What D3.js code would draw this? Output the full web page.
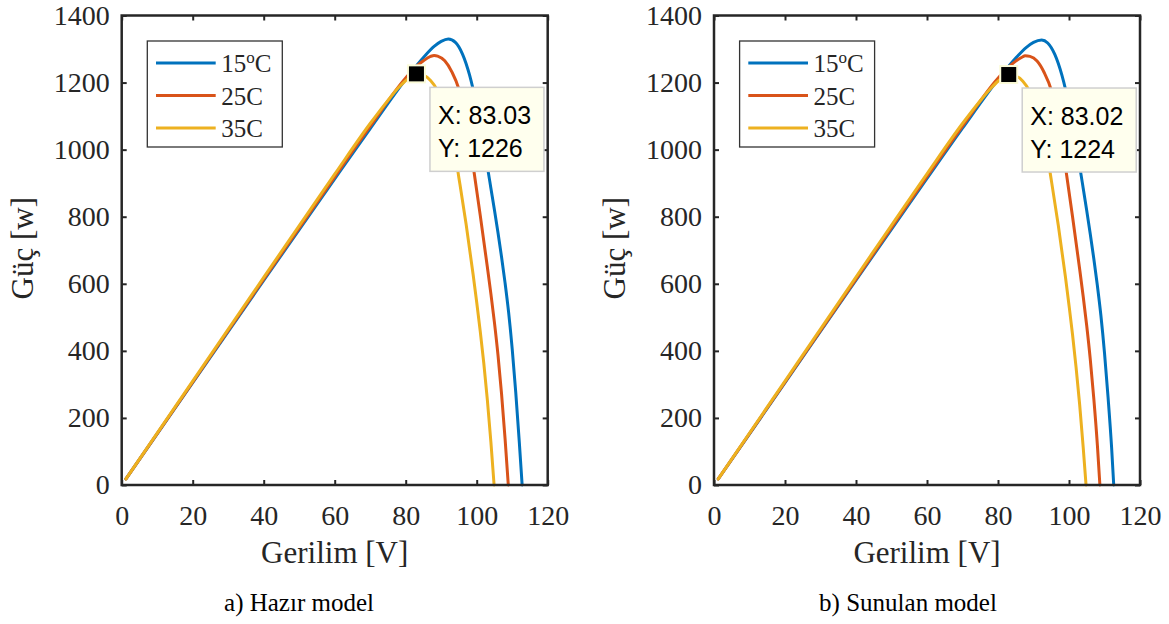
<!DOCTYPE html>
<html>
<head>
<meta charset="utf-8">
<script src="https://cdn.jsdelivr.net/npm/d3@7"></script>
<style>
  body { margin: 0; background: #fff; }
  svg text { fill: #262626; }
</style>
</head>
<body>
<div id="chart"></div>
<script>
// Axis ticks
const xTicks = [0, 20, 40, 60, 80, 100, 120];
const yTicks = [0, 200, 400, 600, 800, 1000, 1200, 1400];

// Legend labels and MATLAB default colours
const seriesNames = ['15', '25C', '35C'];
const seriesColors = ['#0072BD', '#D95319', '#EDB120'];

// a) Hazir model: [voltage, power]
const hazir15 = [[1.2, 18], [20, 305], [40, 610], [60, 913], [70, 1063], [80, 1210], [85, 1275], [88, 1308], [90, 1323], [92, 1330], [94, 1320], [96, 1285], [98, 1222], [100, 1130], [102, 1010], [103, 950], [104, 885], [105, 820], [106, 752], [107, 680], [108, 602], [109, 514], [110, 406], [111, 276], [112, 128], [112.8, 0]];
const hazir25 = [[1.2, 18], [20, 307], [40, 614], [60, 919], [70, 1070], [80, 1214], [83, 1248], [85, 1265], [87, 1278], [88, 1281], [89, 1279], [91, 1265], [93, 1232], [95, 1180], [97, 1088], [99, 952], [101, 804], [103, 650], [104, 570], [105, 484], [106, 387], [107, 272], [108, 137], [108.9, 0]];
const hazir35 = [[1.2, 18], [20, 310], [40, 619], [60, 927], [70, 1078], [75, 1147], [78, 1185], [80, 1206], [82, 1220], [83.03, 1226], [85, 1222], [87, 1206], [89, 1176], [91, 1128], [93, 1045], [95, 915], [97, 779], [99, 627], [100, 545], [101, 458], [102, 363], [103, 254], [104, 128], [104.9, 0]];

// b) Sunulan model
const sunulan15 = [[1.2, 18], [20, 305], [40, 611], [60, 914], [70, 1064], [80, 1209], [85, 1273], [88, 1305], [90, 1320], [92.3, 1327], [94, 1318], [96, 1284], [98, 1222], [100, 1132], [102, 1012], [103, 951], [104, 885], [105, 818], [106, 748], [107, 674], [108, 594], [109, 504], [110, 394], [111, 262], [112, 112], [112.6, 0]];
const sunulan25 = [[1.2, 18], [20, 307], [40, 614], [60, 920], [70, 1070], [80, 1213], [83, 1246], [85, 1264], [87, 1277], [87.6, 1280], [89, 1278], [91, 1264], [93, 1230], [95, 1178], [97, 1086], [99, 949], [101, 800], [103, 644], [104, 562], [105, 474], [106, 374], [107, 256], [108, 118], [108.7, 0]];
const sunulan35 = [[1.2, 18], [20, 310], [40, 620], [60, 928], [70, 1078], [75, 1146], [78, 1183], [80, 1204], [82, 1218], [83.02, 1224], [85, 1220], [87, 1204], [89, 1173], [91, 1124], [93, 1040], [95, 910], [97, 773], [99, 620], [100, 536], [101, 448], [102, 350], [103, 240], [104, 112], [104.8, 0]];

const panels = [
  { left: 121.7, caption: 'a) Hazır model', captionX: 299, series: [hazir15, hazir25, hazir35], tip: [83.03, 1226] },
  { left: 714, caption: 'b) Sunulan model', captionX: 908, series: [sunulan15, sunulan25, sunulan35], tip: [83.02, 1224] }
];

const svgWidth = 1169, svgHeight = 624;
const plotW = 426;
const plotTop = 15.5, plotBottom = 485;
const serif = '"Liberation Serif", "Times New Roman", serif';
const sans = '"Liberation Sans", Arial, Helvetica, sans-serif';

const svg = d3.select('#chart').append('svg')
  .attr('width', svgWidth)
  .attr('height', svgHeight);

panels.forEach(p => {
  const g = svg.append('g').attr('transform', `translate(${p.left}, ${plotTop})`);
  const h = plotBottom - plotTop;

  const xScale = d3.scaleLinear().domain([0, 120]).range([0, plotW]);
  const yScale = d3.scaleLinear().domain([0, 1400]).range([h, 0]);

  // axes, ticks pointing inward
  const styleAxis = sel => {
    sel.attr('font-family', null).attr('font-size', null);
    sel.select('.domain').remove();
    sel.selectAll('line').attr('stroke', '#262626').attr('stroke-width', 2);
    sel.selectAll('text')
      .style('font-family', serif)
      .style('font-size', '28px')
      .style('fill', '#262626');
  };
  g.append('g').attr('transform', `translate(0, ${h})`)
    .call(d3.axisBottom(xScale).tickValues(xTicks).tickFormat(d3.format('d')).tickSize(-5).tickPadding(20))
    .call(styleAxis);
  g.append('g')
    .call(d3.axisLeft(yScale).tickValues(yTicks).tickFormat(d3.format('d')).tickSize(-5).tickPadding(12))
    .call(styleAxis);
  g.append('g')
    .call(d3.axisTop(xScale).tickValues(xTicks).tickSize(-5).tickFormat(''))
    .call(styleAxis);
  g.append('g').attr('transform', `translate(${plotW}, 0)`)
    .call(d3.axisRight(yScale).tickValues(yTicks).tickSize(-5).tickFormat(''))
    .call(styleAxis);

  // curves
  const line = d3.line()
    .x(d => xScale(d[0]))
    .y(d => yScale(d[1]))
    .curve(d3.curveMonotoneX);
  p.series.forEach((s, i) => {
    g.append('path')
      .datum(s)
      .attr('d', line)
      .attr('fill', 'none')
      .attr('stroke', seriesColors[i])
      .attr('stroke-width', 3)
      .attr('stroke-linejoin', 'round')
      .attr('stroke-linecap', 'round');
  });

  // box
  g.append('rect')
    .attr('width', plotW).attr('height', h)
    .attr('fill', 'none')
    .attr('stroke', '#262626')
    .attr('stroke-width', 2.5);

  // legend
  const lg = g.append('g').attr('transform', 'translate(25.6, 25.5)');
  lg.append('rect')
    .attr('width', 135).attr('height', 106)
    .attr('fill', '#fff')
    .attr('stroke', '#333')
    .attr('stroke-width', 1.3);
  seriesNames.forEach((name, i) => {
    const ly = 22 + i * 32.5;
    lg.append('line')
      .attr('x1', 8.7).attr('x2', 68.4)
      .attr('y1', ly).attr('y2', ly)
      .attr('stroke', seriesColors[i])
      .attr('stroke-width', 3);
    const t = lg.append('text')
      .attr('x', 74).attr('y', ly + 9)
      .style('font-family', serif)
      .style('font-size', '25px');
    t.append('tspan').text(name);
    if (i === 0) {
      t.append('tspan').attr('dy', -9).style('font-size', '17px').text('o');
      t.append('tspan').attr('dy', 9).text('C');
    }
  });

  // axis labels
  g.append('text')
    .attr('x', plotW / 2).attr('y', 563 - plotTop)
    .attr('text-anchor', 'middle')
    .style('font-family', serif).style('font-size', '31px')
    .text('Gerilim [V]');
  g.append('text')
    .attr('transform', `translate(-89, ${h / 2 - 2}) rotate(-90)`)
    .attr('text-anchor', 'middle')
    .style('font-family', serif).style('font-size', '31px')
    .text('Güç [w]');

  // data tip
  const tx = xScale(p.tip[0]), ty = yScale(p.tip[1]);
  g.append('rect')
    .attr('x', tx - 8.5).attr('y', ty - 8.5)
    .attr('width', 17).attr('height', 17)
    .attr('fill', '#000')
    .attr('stroke', '#fbfbd8')
    .attr('stroke-width', 2);
  const tip = g.append('g').attr('transform', `translate(${tx + 13.5}, ${ty + 13.5})`);
  tip.append('rect')
    .attr('width', 114).attr('height', 84)
    .attr('fill', '#ffffee')
    .attr('stroke', '#cfcfcf')
    .attr('stroke-width', 1.5);
  tip.append('text')
    .attr('x', 8).attr('y', 36.5)
    .style('font-family', sans).style('font-size', '25px')
    .style('fill', '#000')
    .text(`X: ${p.tip[0].toFixed(2)}`);
  tip.append('text')
    .attr('x', 8).attr('y', 70)
    .style('font-family', sans).style('font-size', '25px')
    .style('fill', '#000')
    .text(`Y: ${p.tip[1]}`);

  // caption
  svg.append('text')
    .attr('x', p.captionX).attr('y', 611)
    .attr('text-anchor', 'middle')
    .style('font-family', serif).style('font-size', '25px')
    .style('fill', '#000')
    .text(p.caption);
});
</script>
</body>
</html>
